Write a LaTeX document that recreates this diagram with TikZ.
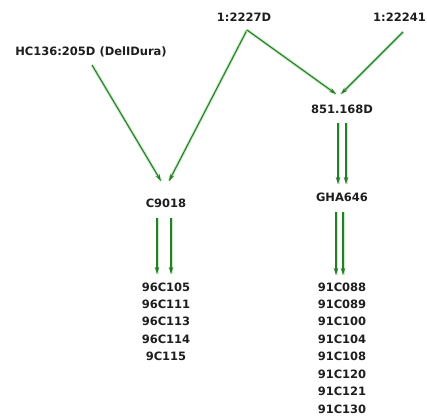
\documentclass[tikz,border=0pt]{standalone}
\usepackage{fontspec}
\setmainfont{DejaVu Sans}
\usetikzlibrary{arrows.meta,calc}
\definecolor{lnk}{RGB}{40,125,40}
\definecolor{halo}{RGB}{200,235,200}
\definecolor{txt}{RGB}{30,30,30}
\tikzset{
  lbl/.style={inner sep=0pt, text=txt, font=\bfseries\fontsize{11.5}{12}\selectfont},
  lnkline/.style={draw=lnk, line width=1.1pt, -{Stealth[length=7pt,width=4.5pt]},
    preaction={draw=halo, line width=3pt, -}},
}
\begin{document}
\begin{tikzpicture}[x=1pt,y=-1pt]
\useasboundingbox[fill=white] (0,0) rectangle (427,416);
\node[lbl] (hc) at (91,52) {HC136:205D (DelIDura)};
\node[lbl] (n1) at (244,17) {1:2227D};
\node[lbl,anchor=east] (n2) at (426,17) {1:22241};
\node[lbl] (c9018) at (166,203) {C9018};
\node[lbl] (n851) at (342,109) {851.168D};
\node[lbl] (gha) at (342,197) {GHA646};
\foreach \t [count=\i] in {96C105,96C111,96C113,96C114,9C115}
  \node[lbl] (l\i) at (166,{287+17.4*(\i-1)}) {\t};
\foreach \t [count=\i] in {91C088,91C089,91C100,91C104,91C108,91C120,91C121,91C130}
  \node[lbl] (r\i) at (342,{287+17.4*(\i-1)}) {\t};
% connectors
\draw[lnkline] ($(hc)+(1,13)$) -- ($(c9018)+(-5,-22)$);
\draw[lnkline] ($(n1)+(3,13)$) -- ($(c9018)+(3,-22)$);
\draw[lnkline] ($(n1)+(3,13)$) -- ($(n851)+(-6,-15)$);
\draw[lnkline] ($(n2.east)+(-23,15)$) -- ($(n851)+(-1,-15)$);
\draw[lnkline] ($(c9018)+(-9,15)$) -- ($(l1)+(-9,-13)$);
\draw[lnkline] ($(c9018)+(5,15)$) -- ($(l1)+(5,-13)$);
\draw[lnkline] ($(n851)+(-4,14)$) -- ($(gha)+(-4,-13)$);
\draw[lnkline] ($(n851)+(4,14)$) -- ($(gha)+(4,-13)$);
\draw[lnkline] ($(gha)+(-6,15)$) -- ($(r1)+(-6,-12)$);
\draw[lnkline] ($(gha)+(1,15)$) -- ($(r1)+(1,-12)$);
\end{tikzpicture}
\end{document}
